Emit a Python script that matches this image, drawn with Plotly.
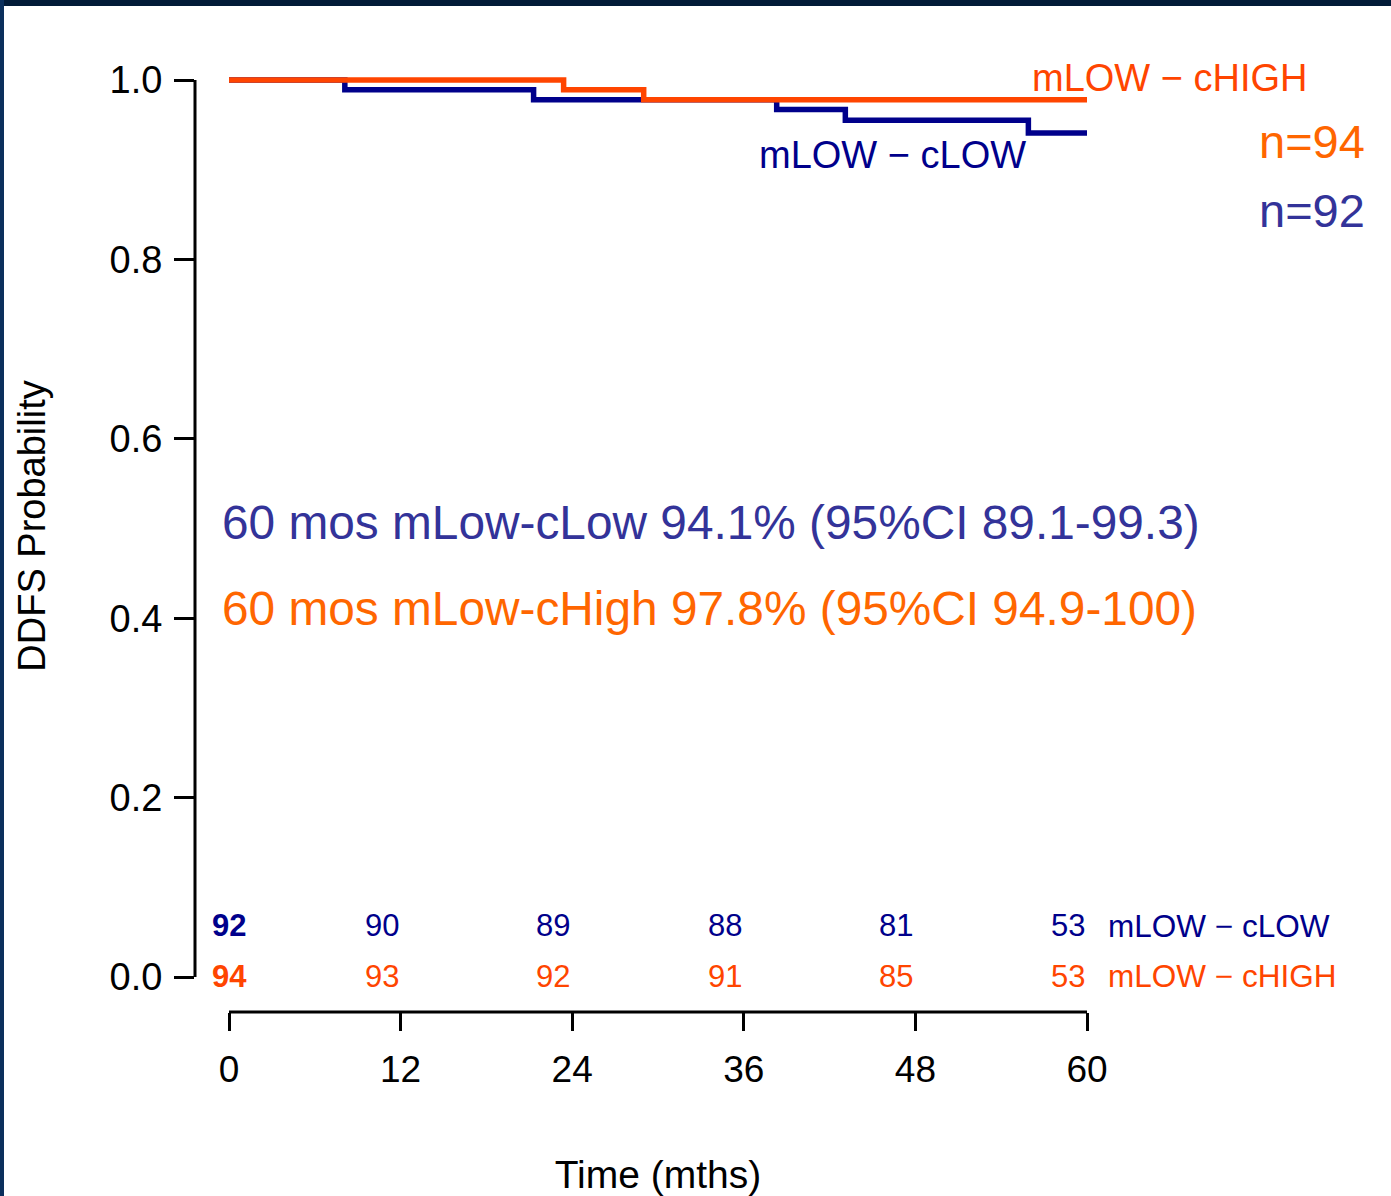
import plotly.graph_objects as go

# ---------------- data ----------------
low_t = [0, 8.1, 21.3, 38.3, 43.1, 55.9, 60]
low_s = [1.0, 0.989, 0.978, 0.967, 0.955, 0.941, 0.941]

high_t = [0, 23.4, 29.0, 60]
high_s = [1.0, 0.989, 0.978, 0.978]

risk_times = [0, 12, 24, 36, 48, 60]
risk_low = [92, 90, 89, 88, 81, 53]
risk_high = [94, 93, 92, 91, 85, 53]

y_ticks = [0.0, 0.2, 0.4, 0.6, 0.8, 1.0]
x_ticks = [0, 12, 24, 36, 48, 60]

label_low = "mLOW \u2212 cLOW"
label_high = "mLOW \u2212 cHIGH"
n_low = "n=92"
n_high = "n=94"
txt_low = "60 mos mLow-cLow 94.1% (95%CI 89.1-99.3)"
txt_high = "60 mos mLow-cHigh 97.8% (95%CI 94.9-100)"

# ---------------- style ----------------
W, H = 1391, 1196
ML, MR, MT, MB = 195, 270, 40, 184
FONT = "Liberation Sans, Arial, Helvetica, sans-serif"
C_LOW = "#00008b"
C_HIGH = "#ff4500"
C_LOW_T = "#333399"
C_HIGH_T = "#ff6600"

# axis ranges: x=0 at px 229, 60 at px 1087 ; y=1 at py 80, 0 at py 977
pxm = (1087 - 229) / 60.0
pyu = (977 - 80) / 1.0
x_min = -(229 - ML) / pxm
x_max = ((W - MR) - 229) / pxm
y_min = -((H - MB) - 977) / pyu
y_max = 1 + (80 - MT) / pyu

pw = W - ML - MR
ph = H - MT - MB


def paper_x(px):
    return (px - ML) / pw


def paper_y(py):
    return ((H - MB) - py) / ph


fig = go.Figure()
fig.add_trace(go.Scatter(x=low_t, y=low_s, mode="lines", line=dict(color=C_LOW, width=5.5, shape="hv"),
                         showlegend=False, hoverinfo="skip"))
fig.add_trace(go.Scatter(x=high_t, y=high_s, mode="lines", line=dict(color=C_HIGH, width=5.5, shape="hv"),
                         showlegend=False, hoverinfo="skip"))

ann = []
# curve labels
ann.append(dict(x=56.0, y=1.002, xref="x", yref="y", text=label_high, showarrow=False,
                xanchor="left", yanchor="middle", font=dict(family=FONT, size=38, color=C_HIGH)))
ann.append(dict(x=55.9, y=0.916, xref="x", yref="y", text=label_low, showarrow=False,
                xanchor="right", yanchor="middle", font=dict(family=FONT, size=38, color=C_LOW)))
ann.append(dict(x=paper_x(1367), y=0.931, xref="paper", yref="y", text=n_high, showarrow=False,
                xanchor="right", yanchor="middle", font=dict(family=FONT, size=47, color=C_HIGH_T)))
ann.append(dict(x=paper_x(1367), y=0.855, xref="paper", yref="y", text=n_low, showarrow=False,
                xanchor="right", yanchor="middle", font=dict(family=FONT, size=47, color=C_LOW_T)))
ann.append(dict(x=-0.63, y=0.507, xref="x", yref="y", text=txt_low, showarrow=False,
                xanchor="left", yanchor="middle", font=dict(family=FONT, size=47.8, color=C_LOW_T)))
ann.append(dict(x=-0.63, y=0.411, xref="x", yref="y", text=txt_high, showarrow=False,
                xanchor="left", yanchor="middle", font=dict(family=FONT, size=47.8, color=C_HIGH_T)))

# risk table
for i, t in enumerate(risk_times):
    first = i == 0
    xa = "center" if first else "right"
    for val, yy, col in ((risk_low[i], 0.057, C_LOW), (risk_high[i], 0.001, C_HIGH)):
        txt = f"<b>{val}</b>" if first else str(val)
        ann.append(dict(x=t, y=yy, xref="x", yref="y", text=txt, showarrow=False,
                        xanchor=xa, yanchor="middle", font=dict(family=FONT, size=31, color=col)))
ann.append(dict(x=paper_x(1106), y=0.057, xref="paper", yref="y", text=label_low, showarrow=False,
                xanchor="left", yanchor="middle", font=dict(family=FONT, size=31.5, color=C_LOW)))
ann.append(dict(x=paper_x(1106), y=0.001, xref="paper", yref="y", text=label_high, showarrow=False,
                xanchor="left", yanchor="middle", font=dict(family=FONT, size=31.5, color=C_HIGH)))

shapes = [
    # axis lines limited to data extent (R style)
    dict(type="line", xref="paper", yref="y", x0=0, x1=0, y0=0, y1=1, line=dict(color="black", width=3)),
    dict(type="line", xref="x", yref="paper", x0=0, x1=60, y0=0, y1=0, line=dict(color="black", width=3)),
    # dark frame of the slide
    dict(type="rect", xref="paper", yref="paper", x0=paper_x(0), x1=paper_x(W), y0=paper_y(0), y1=paper_y(6),
         fillcolor="#021b38", line=dict(width=0), layer="above"),
    dict(type="rect", xref="paper", yref="paper", x0=paper_x(0), x1=paper_x(4), y0=paper_y(0), y1=paper_y(H),
         fillcolor="#0b2f5c", line=dict(width=0), layer="above"),
]

fig.update_layout(
    width=W, height=H, autosize=False,
    margin=dict(l=ML, r=MR, t=MT, b=MB, pad=0),
    paper_bgcolor="white", plot_bgcolor="white",
    font=dict(family=FONT, color="black"),
    showlegend=False,
    annotations=ann, shapes=shapes,
    xaxis=dict(range=[x_min, x_max], tickvals=x_ticks, ticktext=[str(v) for v in x_ticks],
               ticks="outside", ticklen=18, tickwidth=3, tickcolor="black",
               showline=False, showgrid=False, zeroline=False, automargin=False,
               tickfont=dict(family=FONT, size=37, color="black"), ticklabelstandoff=7,
               title=dict(text="Time (mths)", font=dict(family=FONT, size=39, color="black"), standoff=71)),
    yaxis=dict(range=[y_min, y_max], tickvals=y_ticks, ticktext=[f"{v:.1f}" for v in y_ticks],
               ticks="outside", ticklen=20, tickwidth=3, tickcolor="black",
               showline=False, showgrid=False, zeroline=False, automargin=False,
               tickfont=dict(family=FONT, size=38, color="black"), ticklabelstandoff=4,
               title=dict(text="DDFS Probability", font=dict(family=FONT, size=38, color="black"), standoff=52)),
)

fig.write_html("out.html")
